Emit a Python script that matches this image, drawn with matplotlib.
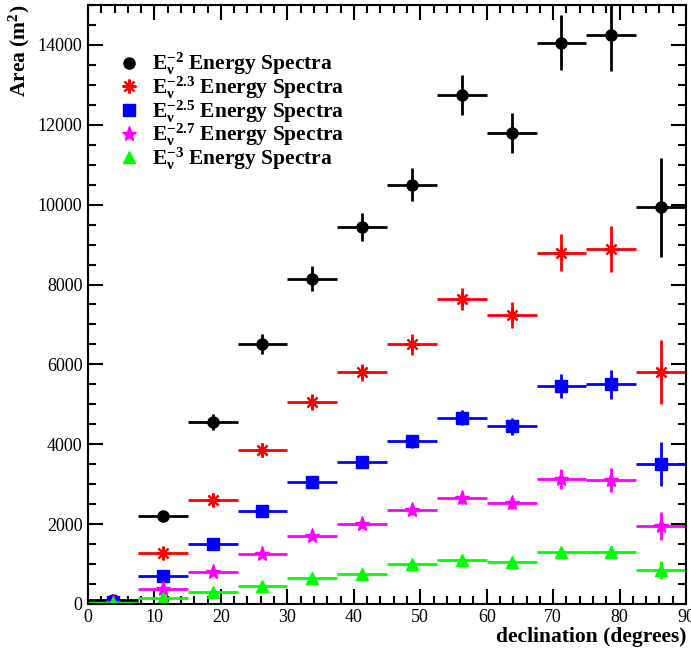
import numpy as np
import matplotlib
matplotlib.use('Agg')
import matplotlib.pyplot as plt
from matplotlib.ticker import MultipleLocator

# declination bins, 7.5 degrees wide
dec = [3.75, 11.25, 18.75, 26.25, 33.75, 41.25, 48.75, 56.25, 63.75, 71.25, 78.75, 86.25]
half_bin = 3.75

area_e20 = [110, 2200, 4560, 6520, 8150, 9450, 10500, 12750, 11800, 14060, 14250, 9940]
err_e20 = [20, 100, 200, 250, 320, 350, 420, 500, 500, 700, 900, 1240]

area_e23 = [60, 1270, 2610, 3850, 5050, 5800, 6500, 7640, 7240, 8800, 8890, 5800]
err_e23 = [12, 60, 110, 170, 200, 220, 260, 280, 320, 470, 580, 800]

area_e25 = [40, 700, 1510, 2320, 3060, 3560, 4070, 4660, 4450, 5460, 5500, 3500]
err_e25 = [8, 40, 60, 90, 110, 130, 160, 190, 210, 300, 370, 550]

area_e27 = [25, 370, 790, 1260, 1700, 2000, 2350, 2650, 2520, 3140, 3110, 1950]
err_e27 = [5, 25, 40, 60, 70, 90, 120, 150, 150, 250, 300, 360]

area_e30 = [15, 150, 300, 460, 650, 750, 1000, 1110, 1060, 1310, 1300, 850]
err_e30 = [3, 15, 25, 35, 45, 55, 70, 80, 90, 110, 150, 230]

labels = [r'E$_{\nu}^{-2}$ Energy Spectra',
          r'E$_{\nu}^{-2.3}$ Energy Spectra',
          r'E$_{\nu}^{-2.5}$ Energy Spectra',
          r'E$_{\nu}^{-2.7}$ Energy Spectra',
          r'E$_{\nu}^{-3}$ Energy Spectra']

plt.rcParams['font.family'] = ['Liberation Serif', 'DejaVu Serif']
plt.rcParams['mathtext.fontset'] = 'custom'
plt.rcParams['mathtext.rm'] = 'Liberation Serif:bold'
plt.rcParams['mathtext.it'] = 'Liberation Serif:bold'
plt.rcParams['mathtext.bf'] = 'Liberation Serif:bold'

fig = plt.figure(figsize=(6.91, 6.5), dpi=100)
ax = fig.add_axes([0.1274, 0.0708, 0.8654, 0.9215])

series = [
    (area_e20, err_e20, 'black', 'o', 8, {}),
    (area_e23, err_e23, 'red', (8, 2, 0), 10, {'markeredgewidth': 1.6}),
    (area_e25, err_e25, 'blue', 's', 8, {}),
    (area_e27, err_e27, 'magenta', '*', 11, {}),
    (area_e30, err_e30, 'lime', '^', 8, {}),
]

for (vals, errs, col, mk, ms, extra), lab in zip(series, labels):
    ax.errorbar(dec, vals, xerr=half_bin, yerr=errs, fmt='none',
                ecolor=col, elinewidth=2, capsize=0)
    ax.plot(dec, vals, linestyle='none', marker=mk, markersize=ms,
            color=col, markeredgecolor=col, label=lab, **extra)

ax.set_xlim(0, 90)
ax.set_ylim(0, 15000)

ax.xaxis.set_major_locator(MultipleLocator(10))
ax.xaxis.set_minor_locator(MultipleLocator(2))
ax.yaxis.set_major_locator(MultipleLocator(2000))
ax.yaxis.set_minor_locator(MultipleLocator(500))
ax.tick_params(which='both', direction='in', top=True, right=True, width=1.5,
               labelsize=13)
ax.tick_params(which='major', length=11)
ax.tick_params(which='minor', length=6)
ax.tick_params(axis='y', pad=4)
for sp in ax.spines.values():
    sp.set_linewidth(1.5)

ax.set_xlabel('declination (degrees)', loc='right', fontsize=15.5,
              fontweight='bold', labelpad=1)
ax.set_ylabel(r'Area (m$^2$)', loc='top', fontsize=15.5, fontweight='bold',
              labelpad=4)

ax.legend(loc='upper left', bbox_to_anchor=(0.014, 0.948), frameon=False,
          prop={'weight': 'bold', 'size': 15.5},
          handletextpad=0.3, labelspacing=-0.12, borderaxespad=0.3,
          handlelength=1.6)

fig.savefig('out.png', dpi=100)
